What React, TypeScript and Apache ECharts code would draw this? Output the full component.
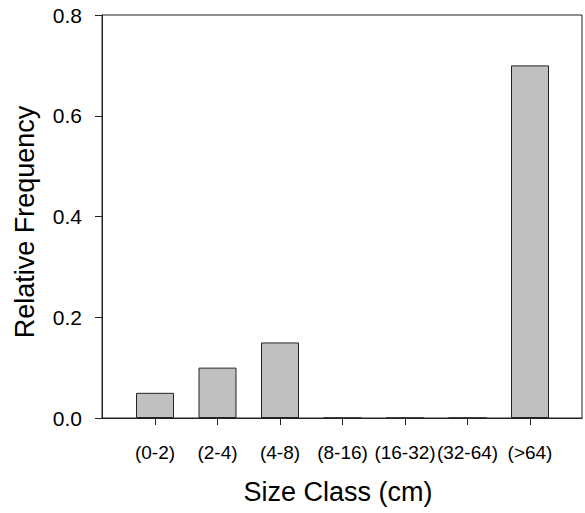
import React, { useEffect, useRef } from "react";
import * as echarts from "echarts";

const categories = ["(0-2)", "(2-4)", "(4-8)", "(8-16)", "(16-32)", "(32-64)", "(>64)"];
const frequencies = [0.05, 0.1, 0.15, 0, 0, 0, 0.7];
const yTicks = [0, 0.2, 0.4, 0.6, 0.8];

const FONT = "'Liberation Sans', Arial, Helvetica, sans-serif";

export default function App() {
  const ref = useRef<HTMLDivElement>(null);
  useEffect(() => {
    if (!ref.current) return;
    const chart = echarts.init(ref.current, null, { renderer: "svg" });
    const positions = categories.map((_, i) => i + 1);
    chart.setOption({
      animation: false,
      backgroundColor: "#ffffff",
      grid: {
        left: 102,
        right: 3,
        top: 15,
        bottom: 95,
        show: true,
        borderColor: "#222",
        borderWidth: 1,
        backgroundColor: "transparent",
      },
      xAxis: {
        type: "value",
        min: 0.152,
        max: 7.832,
        name: "Size Class (cm)",
        nameLocation: "middle",
        nameGap: 60,
        nameTextStyle: { fontFamily: FONT, fontSize: 27, color: "#000", padding: [0, 8, 0, 0] },
        axisLine: { show: true, lineStyle: { color: "#222", width: 1 } },
        axisTick: {
          show: true,
          inside: false,
          length: 7,
          customValues: positions,
          lineStyle: { color: "#222", width: 1 },
        },
        axisLabel: {
          customValues: positions,
          formatter: (v: number) => categories[Math.round(v) - 1] ?? "",
          fontFamily: FONT,
          fontSize: 19,
          color: "#000",
          margin: 25,
        },
        splitLine: { show: false },
      },
      yAxis: {
        type: "value",
        min: yTicks[0],
        max: yTicks[yTicks.length - 1],
        interval: 0.2,
        name: "Relative Frequency",
        nameLocation: "middle",
        nameGap: 64,
        nameTextStyle: { fontFamily: FONT, fontSize: 27, color: "#000", padding: [0, 11, 0, 0] },
        axisLine: { show: true, lineStyle: { color: "#222", width: 1 } },
        axisTick: { show: true, inside: false, length: 7, lineStyle: { color: "#222", width: 1 } },
        axisLabel: {
          formatter: (v: number) => v.toFixed(1),
          fontFamily: FONT,
          fontSize: 21,
          color: "#000",
          margin: 20,
        },
        splitLine: { show: false },
      },
      series: [
        {
          type: "bar",
          data: frequencies.map((v, i) => [positions[i], v]),
          barWidth: 38,
          itemStyle: { color: "#c0c0c0", borderColor: "#222", borderWidth: 1 },
        },
      ],
    });
    return () => chart.dispose();
  }, []);
  return (
    <div
      ref={ref}
      style={{ position: "fixed", left: 0, top: 0, width: 585, height: 513, background: "#fff" }}
    />
  );
}
